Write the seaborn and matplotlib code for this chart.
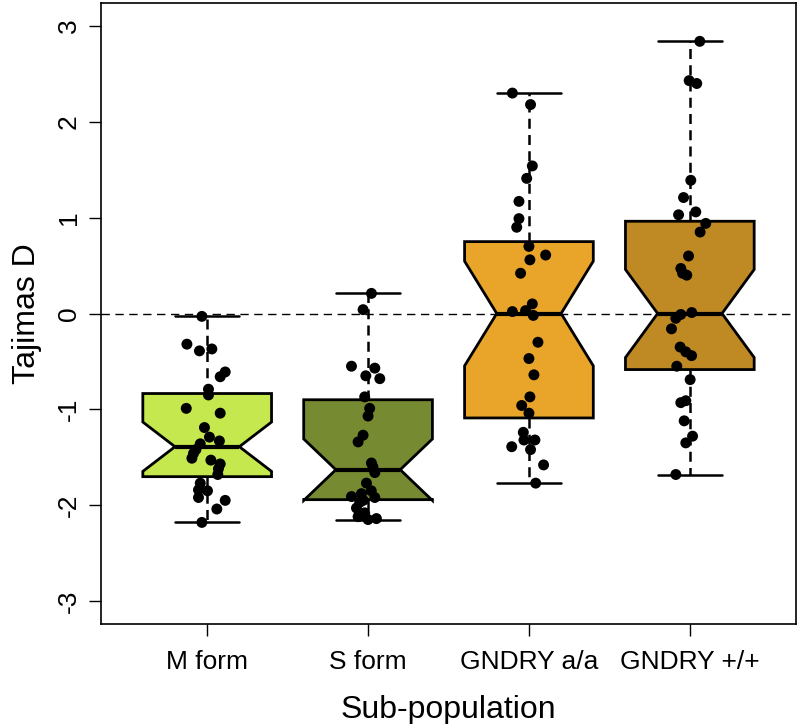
import numpy as np
import pandas as pd
import matplotlib
matplotlib.use("Agg")
import matplotlib.pyplot as plt
import seaborn as sns

categories = ["M form", "S form", "GNDRY a/a", "GNDRY +/+"]
colors = ["#C6E84F", "#768A32", "#E9A52A", "#BF8A24"]

m_form = [-0.03, -0.32, -0.39, -0.37, -0.61, -0.66, -0.79, -0.85, -0.99, -1.04,
          -1.19, -1.29, -1.33, -1.36, -1.42, -1.46, -1.51, -1.53, -1.57, -1.62,
          -1.68, -1.77, -1.84, -1.85, -1.92, -1.95, -2.04, -2.18]
m_jit = [-0.033, -0.126, -0.048, 0.029, 0.112, 0.081, 0.008, 0.008, -0.130, 0.081,
         -0.017, 0.014, 0.076, -0.043, -0.070, -0.085, -0.095, 0.023, 0.081, 0.070,
         0.066, -0.043, -0.054, 0.002, -0.054, 0.112, 0.060, -0.033]

s_form = [0.21, 0.04, -0.55, -0.57, -0.65, -0.68, -0.87, -0.99, -1.07, -1.27,
          -1.34, -1.56, -1.60, -1.66, -1.77, -1.85, -1.88, -1.91, -1.92, -1.95,
          -1.97, -2.03, -2.08, -2.12, -2.14, -2.15]
s_jit = [0.021, -0.031, -0.103, 0.042, -0.014, 0.073, -0.021, 0.010, 0.000, -0.031,
         -0.062, 0.021, 0.030, 0.042, -0.010, 0.020, -0.041, -0.103, 0.042, -0.030,
         -0.052, -0.072, -0.021, -0.062, 0.052, 0.000]

gndry_aa = [2.30, 2.18, 1.54, 1.41, 1.17, 0.99, 0.90, 0.70, 0.61, 0.56,
            0.42, 0.10, 0.03, 0.02, -0.02, -0.30, -0.47, -0.64, -0.87, -0.96,
            -1.04, -1.24, -1.32, -1.32, -1.39, -1.42, -1.58, -1.77]
aa_jit = [-0.103, 0.010, 0.021, -0.014, -0.062, -0.062, -0.076, 0.000, 0.104, 0.006,
          -0.052, 0.021, -0.021, -0.103, 0.027, 0.056, 0.000, 0.031, 0.006, -0.045,
          0.000, -0.035, -0.031, 0.037, -0.107, 0.010, 0.091, 0.042]

gndry_pp = [2.84, 2.43, 2.40, 1.39, 1.21, 1.06, 1.03, 0.94, 0.85, 0.60,
            0.47, 0.42, 0.40, 0.01, -0.01, -0.05, -0.16, -0.35, -0.40, -0.44,
            -0.55, -0.69, -0.91, -0.93, -1.12, -1.28, -1.35, -1.68]
pp_jit = [0.062, -0.004, 0.043, 0.006, -0.039, 0.037, -0.070, 0.099, 0.064, -0.008,
          -0.056, -0.045, -0.019, 0.012, -0.056, -0.087, -0.114, -0.060, -0.025, 0.011,
          -0.081, 0.002, -0.025, -0.056, -0.035, 0.017, -0.025, -0.087]

values = [m_form, s_form, gndry_aa, gndry_pp]
jitters = [m_jit, s_jit, aa_jit, pp_jit]

rows = []
for i, (cat, vals, jit) in enumerate(zip(categories, values, jitters)):
    for v, j in zip(vals, jit):
        rows.append({"group": cat, "value": v, "xpos": i + j})
df = pd.DataFrame(rows)

sns.set_style("white")
plt.rcParams["font.family"] = ["Liberation Sans", "DejaVu Sans"]
plt.rcParams["text.color"] = "black"
plt.rcParams["axes.labelcolor"] = "black"
plt.rcParams["xtick.color"] = "black"
plt.rcParams["ytick.color"] = "black"

fig = plt.figure(figsize=(7.97, 7.24), dpi=100)
ax = fig.add_axes([101 / 797, 1 - 624 / 724, 695 / 797, 621 / 724])

ax.axhline(0, color="black", linewidth=1.0, linestyle=(0, (6, 4)), zorder=0)

sns.boxplot(data=df, x="group", y="value", hue="group", order=categories,
            hue_order=categories, palette=colors, saturation=1, legend=False,
            notch=True, width=0.8, whis=1.5, fliersize=0, linecolor="black",
            linewidth=2.0,
            whiskerprops=dict(linestyle=(0, (4, 2.5)), linewidth=1.8),
            capprops=dict(linewidth=1.8),
            medianprops=dict(linewidth=3.0, color="black"),
            ax=ax, zorder=2)

sns.scatterplot(data=df, x="xpos", y="value", color="black", s=62,
                edgecolor="none", ax=ax, zorder=3, legend=False)

ax.set_xlim(-0.66, 3.66)
ax.set_ylim(-3.24, 3.24)
ax.set_xticks(range(4))
ax.set_xticklabels(categories)
ax.set_yticks([-3, -2, -1, 0, 1, 2, 3])
ax.set_yticklabels(["-3", "-2", "-1", "0", "1", "2", "3"], rotation=90, va="center")
ax.tick_params(axis="both", direction="out", length=8.5, width=1, color="black",
               labelcolor="black", labelsize=19, left=True, bottom=True)
ax.tick_params(axis="x", pad=10)
ax.tick_params(axis="y", pad=6)
for sp in ax.spines.values():
    sp.set_visible(True)
    sp.set_color("black")
    sp.set_linewidth(1.2)
ax.set_xlabel("Sub-population", fontsize=23, labelpad=15, color="black")
ax.set_ylabel("Tajimas D", fontsize=23, labelpad=11, color="black")

fig.savefig("out.png", dpi=100)
